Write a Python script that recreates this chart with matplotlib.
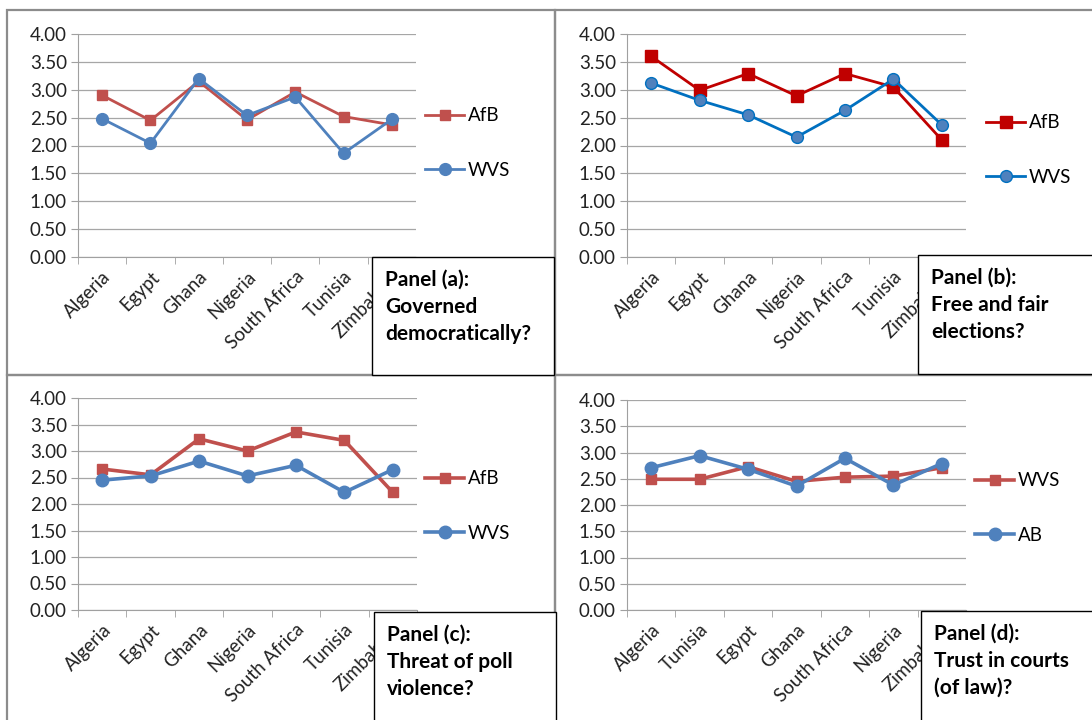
import matplotlib
matplotlib.use("Agg")
import matplotlib.pyplot as plt
from matplotlib.patches import Rectangle
from matplotlib.ticker import FixedLocator

plt.rcParams['font.family'] = ['Lato', 'DejaVu Sans']

W, H = 1092, 720

# ---- data ----
countries = ["Algeria", "Egypt", "Ghana", "Nigeria", "South Africa", "Tunisia", "Zimbabwe"]
countries_d = ["Algeria", "Tunisia", "Egypt", "Ghana", "South Africa", "Nigeria", "Zimbabwe"]

a_afb = [2.90, 2.45, 3.15, 2.46, 2.96, 2.52, 2.37]
a_wvs = [2.48, 2.04, 3.20, 2.54, 2.87, 1.86, 2.47]

b_afb = [3.60, 2.99, 3.29, 2.89, 3.29, 3.05, 2.10]
b_wvs = [3.12, 2.81, 2.55, 2.15, 2.63, 3.19, 2.37]

c_afb = [2.66, 2.55, 3.23, 3.00, 3.36, 3.20, 2.22]
c_wvs = [2.45, 2.53, 2.81, 2.53, 2.73, 2.22, 2.65]

d_wvs = [2.49, 2.49, 2.73, 2.45, 2.53, 2.55, 2.71]
d_ab = [2.71, 2.94, 2.68, 2.36, 2.89, 2.38, 2.79]

yticks = [0, 0.5, 1.0, 1.5, 2.0, 2.5, 3.0, 3.5, 4.0]

RED = "#C0504D"
BLUE = "#4F81BD"
FS = 13.5


def fx(x):
    return x / W


def fy(y):
    return 1 - y / H


def make_axes(fig, left, right, top, bottom):
    ax = fig.add_axes([fx(left), fy(bottom), fx(right) - fx(left), fy(top) - fy(bottom)])
    ax.set_xlim(-0.5, 6.5)
    ax.set_ylim(0, 4)
    ax.set_yticks(yticks)
    ax.set_yticklabels([f"{v:.2f}" for v in yticks], fontsize=FS, color="#222222")
    ax.grid(axis="y", color="#a6a6a6", lw=0.9)
    ax.set_axisbelow(True)
    for s in ["top", "right"]:
        ax.spines[s].set_visible(False)
    ax.spines["left"].set_color("#a0a0a0")
    ax.spines["bottom"].set_color("#a0a0a0")
    ax.tick_params(axis="y", length=5, color="#a0a0a0", pad=3)
    ax.xaxis.set_minor_locator(FixedLocator([i - 0.5 for i in range(8)]))
    ax.tick_params(axis="x", which="minor", length=5, color="#a0a0a0")
    ax.tick_params(axis="x", which="major", length=0, pad=8)
    return ax


def set_cats(ax, cats):
    ax.set_xticks(range(len(cats)))
    ax.set_xticklabels(cats, rotation=45, ha="right", rotation_mode="anchor",
                       fontsize=FS, color="#222222")


def add_legend(ax, x, yc):
    ax.legend(loc="center left", bbox_to_anchor=(fx(x), fy(yc)),
              bbox_transform=ax.figure.transFigure, frameon=False,
              fontsize=FS, labelspacing=2.0, handlelength=2.1,
              handletextpad=0.2, borderpad=0, borderaxespad=0)


def text_box(fig, x0, y0, x1, y1, lines):
    fig.patches.append(Rectangle((fx(x0), fy(y1)), fx(x1) - fx(x0), fy(y0) - fy(y1),
                                 transform=fig.transFigure, facecolor="white",
                                 edgecolor="black", lw=1.0, zorder=5))
    for i, t in enumerate(lines):
        fig.text(fx(x0 + 13), fy(y0 + 23 + 27 * i), t, fontsize=15, fontweight="bold",
                 va="center", ha="left", color="black", zorder=6)


def frame(fig, x0, y0, x1, y1):
    fig.patches.append(Rectangle((fx(x0), fy(y1)), fx(x1) - fx(x0), fy(y0) - fy(y1),
                                 transform=fig.transFigure, facecolor="none",
                                 edgecolor="#8c8c8c", lw=1.6, zorder=4))


fig = plt.figure(figsize=(W / 100, H / 100), dpi=100)

# panel frames
frame(fig, 7, 10, 555, 375)
frame(fig, 555, 10, 1100, 375)
frame(fig, 7, 375, 555, 730)
frame(fig, 555, 375, 1100, 730)

# Panel (a)
ax = make_axes(fig, 78, 416, 34, 257)
x = range(len(countries))
ax.plot(x, a_afb, color=RED, lw=2.0, marker="s", ms=7, label="AfB")
ax.plot(x, a_wvs, color=BLUE, lw=2.0, marker="o", ms=8.5, label="WVS")
set_cats(ax, countries)
add_legend(ax, 425, 143)

# Panel (b)
ax = make_axes(fig, 627, 966, 34, 257)
ax.plot(x, b_afb, color="#C00000", lw=2.0, marker="s", ms=9, label="AfB")
ax.plot(x, b_wvs, color="#0070C0", lw=2.0, marker="o", ms=8.5, mfc="#4F81BD",
        mec="#0070C0", label="WVS")
set_cats(ax, countries)
add_legend(ax, 986, 150)

# Panel (c)
ax = make_axes(fig, 78, 417, 398, 610)
ax.plot(x, c_afb, color=RED, lw=2.6, marker="s", ms=7.5, label="AfB")
ax.plot(x, c_wvs, color=BLUE, lw=2.6, marker="o", ms=9, label="WVS")
set_cats(ax, countries)
add_legend(ax, 425, 506)

# Panel (d)
ax = make_axes(fig, 627, 966, 400, 610)
ax.plot(x, d_wvs, color=RED, lw=2.6, marker="s", ms=7.5, label="WVS")
ax.plot(x, d_ab, color=BLUE, lw=2.6, marker="o", ms=9, label="AB")
set_cats(ax, countries_d)
add_legend(ax, 975, 508)

# panel caption boxes
text_box(fig, 372, 257, 554, 375, ["Panel (a):", "Governed", "democratically?"])
text_box(fig, 918, 255, 1100, 374, ["Panel (b):", "Free and fair", "elections?"])
text_box(fig, 374, 612, 556, 730, ["Panel (c):", "Threat of poll", "violence?"])
text_box(fig, 921, 611, 1100, 730, ["Panel (d):", "Trust in courts", "(of law)?"])

fig.savefig("out.png", dpi=100)
